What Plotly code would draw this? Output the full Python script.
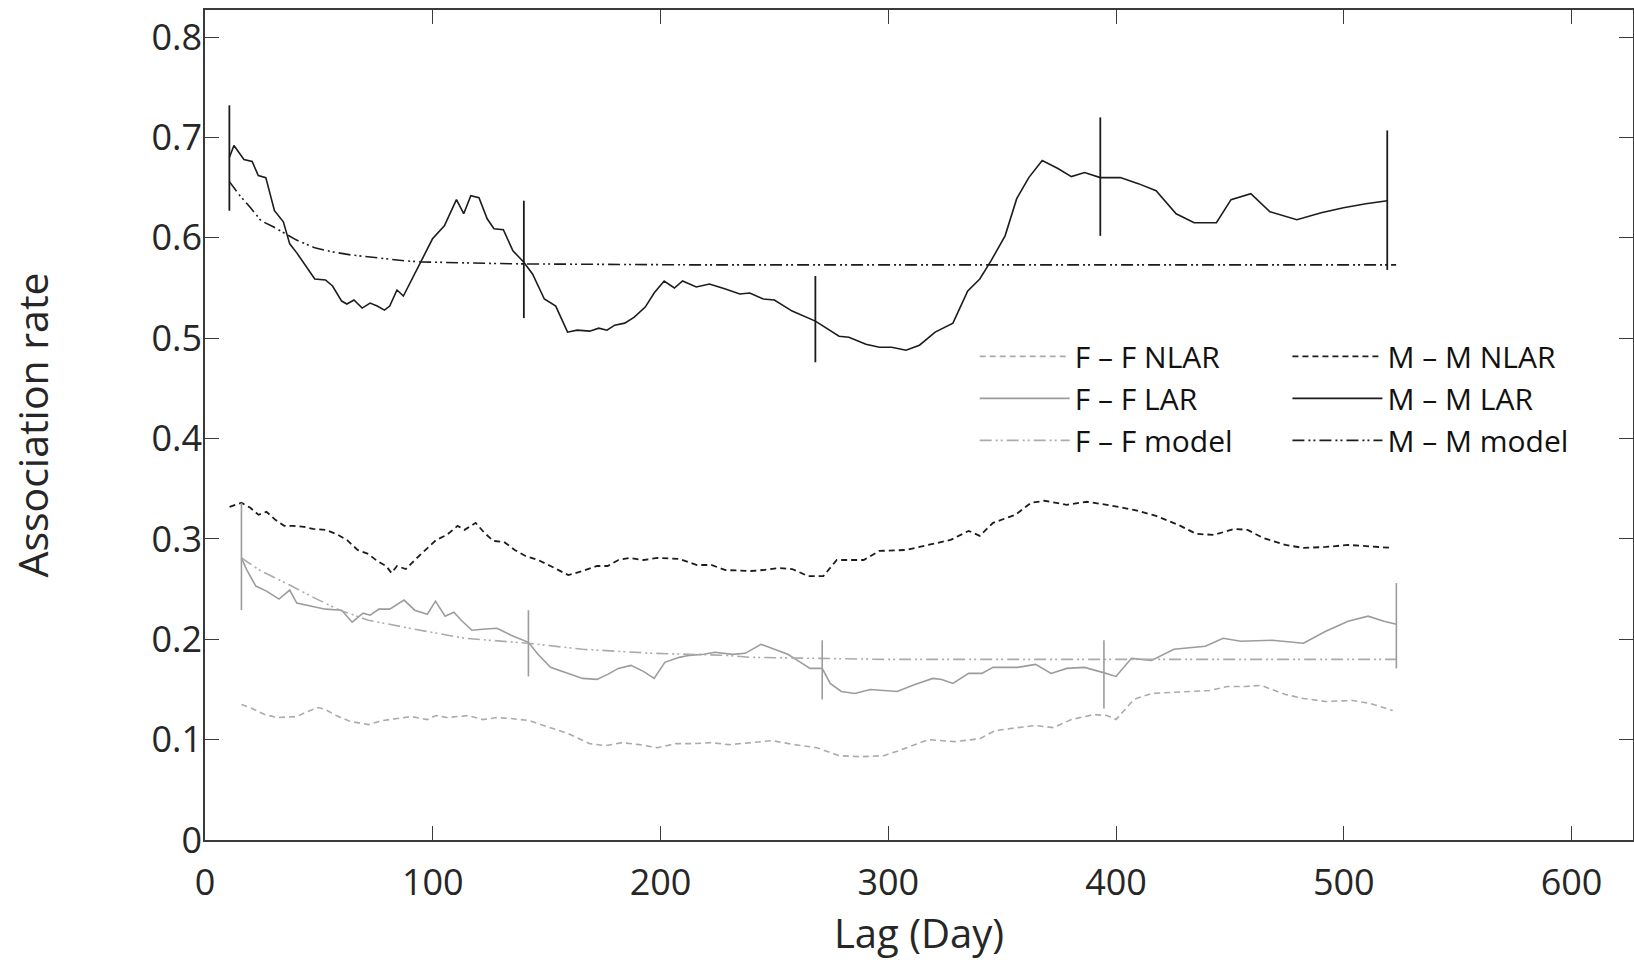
import plotly.graph_objects as go

# ---------------- data ----------------
mm_lar_x = [10.7, 12.7, 17.1, 20.7, 23.4, 26.7, 30.5, 34.4, 37.2, 40.3, 48.2, 52.9, 56.0, 60.0,
            62.3, 65.4, 69.0, 72.5, 75.6, 78.8, 81.1, 84.3, 87.1, 90.5, 95.2, 99.9, 105.1, 110.4,
            113.6, 116.7, 120.3, 123.9, 126.9, 131.0, 135.2, 139.9, 143.8, 149.0, 154.0, 159.2,
            163.4, 168.9, 172.9, 176.5, 179.9, 184.3, 188.5, 193.3, 197.2, 201.6, 206.1, 209.7,
            215.7, 221.5, 228.5, 234.8, 239.2, 245.1, 250.0, 257.8, 268.0, 278.4, 282.7, 290.2,
            296.1, 301.5, 307.8, 313.7, 320.6, 328.4, 334.9, 340.2, 345.1, 351.3, 356.4, 361.7,
            367.6, 374.5, 380.4, 386.2, 393.1, 401.9, 409.8, 417.6, 426.4, 434.3, 444.1, 450.5,
            459.2, 467.6, 479.4, 490.1, 499.9, 509.7, 519.1]
mm_lar_y = [0.680, 0.692, 0.678, 0.676, 0.662, 0.660, 0.627, 0.616, 0.594, 0.585, 0.559, 0.558, 0.552, 0.537,
            0.534, 0.538, 0.530, 0.535, 0.532, 0.528, 0.532, 0.548, 0.542, 0.557, 0.577, 0.599, 0.612, 0.638,
            0.624, 0.642, 0.640, 0.619, 0.609, 0.608, 0.587, 0.576, 0.564, 0.539, 0.532, 0.506,
            0.508, 0.507, 0.510, 0.508, 0.513, 0.515, 0.521, 0.531, 0.545, 0.557, 0.550, 0.557,
            0.551, 0.554, 0.549, 0.544, 0.545, 0.539, 0.538, 0.527, 0.517, 0.502, 0.501, 0.494,
            0.491, 0.491, 0.488, 0.493, 0.506, 0.515, 0.547, 0.559, 0.577, 0.602, 0.639, 0.660,
            0.677, 0.669, 0.661, 0.665, 0.660, 0.660, 0.654, 0.647, 0.624, 0.615, 0.615, 0.638,
            0.644, 0.626, 0.618, 0.625, 0.630, 0.634, 0.637]

mm_model_x = [10.7, 15, 20, 24.6, 30, 34.8, 40, 48.2, 56, 63.9, 72, 79.5, 88, 95.2, 110, 125,
              139.9, 170, 220, 300, 400, 523]
mm_model_y = [0.656, 0.643, 0.630, 0.617, 0.611, 0.605, 0.598, 0.590, 0.586, 0.583, 0.581, 0.579,
              0.577, 0.576, 0.575, 0.5745, 0.574, 0.5735, 0.573, 0.573, 0.573, 0.573]

mm_nlar_x = [10.8, 16.0, 19.9, 23.5, 27.0, 30.9, 34.8, 38.8, 43.5, 47.4, 52.9, 57.6, 62.3, 67.0,
             71.7, 75.6, 79.5, 81.9, 84.3, 88.2, 92.1, 96.8, 101.5, 106.2, 110.9, 114.0, 118.8,
             122.7, 126.6, 131.3, 136.0, 140.7, 146.2, 151.7, 159.5, 165.8, 172.1, 176.8, 181.5,
             186.2, 192.5, 198.7, 208.2, 216.0, 222.3, 228.5, 239.2, 245.1, 251.9, 257.8, 264.7,
             271.5, 277.4, 289.2, 296.1, 307.8, 317.6, 327.4, 335.3, 340.2, 346.0, 355.8, 362.7,
             368.6, 378.4, 387.2, 396.0, 407.8, 417.6, 427.4, 435.2, 443.1, 451.9, 457.8, 464.6,
             474.4, 482.3, 492.1, 501.9, 509.7, 521.5]
mm_nlar_y = [0.332, 0.336, 0.331, 0.324, 0.327, 0.319, 0.313, 0.313, 0.312, 0.310, 0.309, 0.305, 0.299, 0.289,
             0.285, 0.278, 0.273, 0.266, 0.273, 0.270, 0.279, 0.289, 0.299, 0.304, 0.313, 0.309, 0.316,
             0.306, 0.298, 0.297, 0.289, 0.283, 0.279, 0.273, 0.264, 0.268, 0.273, 0.273, 0.279,
             0.281, 0.279, 0.281, 0.280, 0.274, 0.274, 0.269, 0.268, 0.269, 0.271, 0.270, 0.263,
             0.263, 0.279, 0.279, 0.288, 0.289, 0.294, 0.299, 0.308, 0.303, 0.316, 0.324, 0.336,
             0.338, 0.334, 0.337, 0.334, 0.329, 0.323, 0.314, 0.305, 0.304, 0.310, 0.309, 0.301,
             0.294, 0.291, 0.292, 0.294, 0.293, 0.291]

ff_lar_x = [16.0, 18.4, 22.3, 27.0, 32.5, 37.2, 40.3, 47.4, 52.9, 60.0, 64.6, 69.4, 72.5, 76.4,
            81.1, 87.4, 92.1, 97.6, 101.2, 105.4, 109.3, 112.5, 117.2, 121.9, 128.2, 134.4, 142.0,
            146.2, 151.7, 159.5, 165.8, 172.1, 176.8, 181.5, 187.0, 192.5, 197.2, 201.9, 208.2,
            212.9, 219.1, 223.8, 231.7, 237.2, 244.1, 250.0, 255.9, 260.8, 265.7, 271.0, 274.5,
            279.4, 285.3, 292.1, 298.0, 303.9, 311.7, 319.6, 323.5, 328.4, 335.3, 341.1, 346.0,
            356.8, 364.7, 371.5, 378.4, 386.2, 394.1, 400.0, 406.8, 415.6, 425.4, 439.2, 447.0,
            454.8, 468.6, 482.3, 492.1, 501.9, 510.7, 517.6, 523.1]
ff_lar_y = [0.281, 0.269, 0.253, 0.248, 0.240, 0.249, 0.236, 0.233, 0.230, 0.229, 0.217, 0.226, 0.224, 0.230,
            0.230, 0.239, 0.229, 0.225, 0.238, 0.223, 0.227, 0.219, 0.209, 0.210, 0.211, 0.204, 0.197,
            0.185, 0.172, 0.166, 0.161, 0.160, 0.165, 0.171, 0.174, 0.168, 0.161, 0.177, 0.182,
            0.184, 0.185, 0.187, 0.185, 0.186, 0.195, 0.190, 0.185, 0.178, 0.171, 0.171, 0.156,
            0.148, 0.146, 0.150, 0.149, 0.148, 0.155, 0.161, 0.160, 0.156, 0.166, 0.166, 0.172,
            0.172, 0.175, 0.166, 0.171, 0.172, 0.167, 0.163, 0.181, 0.179, 0.190, 0.193, 0.201,
            0.198, 0.199, 0.196, 0.208, 0.218, 0.223, 0.218, 0.215]

ff_model_x = [16.0, 24.6, 37.2, 48.2, 59.2, 71.7, 92.1, 114.0, 142.0, 165.8, 197.2, 228.5, 239.2,
              298.0, 396.0, 523.1]
ff_model_y = [0.281, 0.268, 0.254, 0.241, 0.229, 0.219, 0.210, 0.201, 0.196, 0.190, 0.186, 0.184,
              0.182, 0.180, 0.180, 0.180]

ff_nlar_x = [16.0, 20.7, 26.2, 31.7, 40.3, 45.0, 49.7, 52.9, 57.6, 63.9, 71.7, 78.0, 84.3, 90.5,
             97.6, 101.5, 106.2, 115.6, 122.0, 128.2, 134.4, 142.3, 150.1, 159.5, 168.9, 176.0,
             183.1, 190.9, 198.7, 206.6, 214.4, 222.3, 230.1, 239.2, 249.0, 258.8, 268.6, 278.4,
             288.2, 298.0, 305.9, 317.6, 329.4, 340.2, 347.0, 356.8, 364.7, 372.5, 380.4, 390.2,
             396.0, 400.0, 407.8, 415.6, 425.4, 435.2, 441.1, 449.0, 456.8, 463.7, 474.4, 482.3,
             492.1, 503.9, 511.7, 521.5]
ff_nlar_y = [0.135, 0.131, 0.125, 0.122, 0.123, 0.128, 0.132, 0.130, 0.124, 0.118, 0.115, 0.119, 0.121, 0.123,
             0.120, 0.124, 0.122, 0.124, 0.120, 0.122, 0.121, 0.119, 0.113, 0.106, 0.096, 0.094,
             0.097, 0.095, 0.092, 0.096, 0.096, 0.097, 0.095, 0.097, 0.099, 0.095, 0.092, 0.084,
             0.083, 0.084, 0.090, 0.100, 0.098, 0.101, 0.109, 0.112, 0.114, 0.112, 0.120, 0.125,
             0.124, 0.120, 0.140, 0.146, 0.147, 0.148, 0.149, 0.153, 0.153, 0.154, 0.145, 0.141,
             0.138, 0.139, 0.136, 0.129]

# vertical bars (confidence ranges) drawn at a few lags
mm_bar_x = [10.7, 140.0, 268.0, 393.1, 519.1]
mm_bar_lo = [0.627, 0.520, 0.476, 0.602, 0.568]
mm_bar_hi = [0.732, 0.637, 0.562, 0.720, 0.707]
ff_bar_x = [16.0, 142.0, 271.0, 394.7, 523.1]
ff_bar_lo = [0.229, 0.163, 0.140, 0.131, 0.171]
ff_bar_hi = [0.336, 0.229, 0.199, 0.199, 0.256]

x_ticks = [0, 100, 200, 300, 400, 500, 600]
y_ticks = [0, 0.1, 0.2, 0.3, 0.4, 0.5, 0.6, 0.7, 0.8]
y_tick_text = ["0", "0.1", "0.2", "0.3", "0.4", "0.5", "0.6", "0.7", "0.8"]

# ---------------- styles ----------------
BLACK = "#1c1c1c"
GREY = "#9c9c9c"
LGREY = "#ababab"
DASHDOTDOT = "12px,4px,2px,3px,2px,4px"
FONT = "Open Sans"
TXT = "#262626"

fig = go.Figure()

# F-F legend column
fig.add_trace(go.Scatter(x=ff_nlar_x, y=ff_nlar_y, mode="lines", name="F \u2013 F NLAR",
                         line=dict(color=LGREY, width=1.6, dash="6px,4px"), legend="legend"))
fig.add_trace(go.Scatter(x=ff_lar_x, y=ff_lar_y, mode="lines", name="F \u2013 F LAR",
                         line=dict(color=GREY, width=1.6), legend="legend"))
fig.add_trace(go.Scatter(x=ff_model_x, y=ff_model_y, mode="lines", name="F \u2013 F model",
                         line=dict(color=LGREY, width=1.6, dash=DASHDOTDOT), legend="legend"))
# M-M legend column
fig.add_trace(go.Scatter(x=mm_nlar_x, y=mm_nlar_y, mode="lines", name="M \u2013 M NLAR",
                         line=dict(color=BLACK, width=1.8, dash="6px,4px"), legend="legend2"))
fig.add_trace(go.Scatter(x=mm_lar_x, y=mm_lar_y, mode="lines", name="M \u2013 M LAR",
                         line=dict(color=BLACK, width=1.6), legend="legend2"))
fig.add_trace(go.Scatter(x=mm_model_x, y=mm_model_y, mode="lines", name="M \u2013 M model",
                         line=dict(color=BLACK, width=1.6, dash=DASHDOTDOT), legend="legend2"))

# vertical range bars
def bars(xs, lo, hi, color, thick):
    mid = [(a + b) / 2 for a, b in zip(lo, hi)]
    half = [(b - a) / 2 for a, b in zip(lo, hi)]
    return go.Scatter(x=xs, y=mid, mode="markers", showlegend=False, hoverinfo="skip",
                      marker=dict(size=1, color="rgba(0,0,0,0)"),
                      error_y=dict(type="data", array=half, visible=True, width=0,
                                   thickness=thick, color=color))

fig.add_trace(bars(ff_bar_x, ff_bar_lo, ff_bar_hi, GREY, 1.6))
fig.add_trace(bars(mm_bar_x, mm_bar_lo, mm_bar_hi, BLACK, 1.8))

axis_common = dict(showgrid=False, zeroline=False, showline=True, linecolor="#3a3a3a",
                   linewidth=1.5, mirror="ticks", ticks="inside", ticklen=14, tickwidth=1.2,
                   tickcolor="#3a3a3a", automargin=False,
                   tickfont=dict(family=FONT, size=36, color=TXT))

legend_common = dict(y=0.614, xanchor="left", yanchor="top", bgcolor="rgba(0,0,0,0)",
                     font=dict(family=FONT, size=30, color="#111111"), itemwidth=90,
                     tracegroupgap=0)

fig.update_layout(
    width=1634, height=960,
    margin=dict(l=205, r=1, t=10, b=120),
    paper_bgcolor="white", plot_bgcolor="white",
    font=dict(family=FONT, color=TXT),
    xaxis=dict(range=[0, 627], tickmode="array", tickvals=x_ticks, ticklabelstandoff=10,
               title=dict(text="Lag (Day)", font=dict(family=FONT, size=40, color=TXT),
                          standoff=0),
               **axis_common),
    yaxis=dict(range=[0, 0.827], tickmode="array", tickvals=y_ticks, ticktext=y_tick_text,
               ticklabelstandoff=-6,
               title=dict(text="Association rate", font=dict(family=FONT, size=41, color=TXT),
                          standoff=90),
               **axis_common),
    legend=dict(x=0.539, **legend_common),
    legend2=dict(x=0.758, **legend_common),
)

fig.write_html(
    "out.html",
    config={"displayModeBar": False},
    post_script="document.body.style.margin='0';document.body.style.overflow='hidden';",
)
